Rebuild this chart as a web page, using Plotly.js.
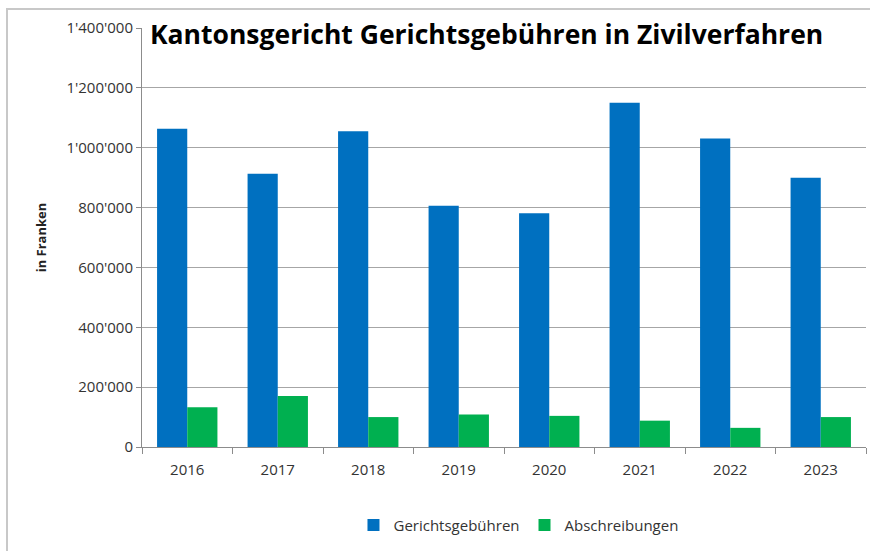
<!DOCTYPE html>
<html><head><meta charset="utf-8">
<script src="https://cdn.plot.ly/plotly-3.0.1.min.js"></script>
<style>
html,body{margin:0;padding:0;background:#fff;width:870px;height:551px;overflow:hidden;}
#wrap{position:absolute;left:6px;top:8px;width:864px;height:543px;border-left:2px solid #c8c8c8;border-top:2px solid #c8c8c8;}
#chart{width:864px;height:543px;}
</style></head>
<body><div id="wrap"><div id="chart"></div></div>
<script>
const years = ['2016','2017','2018','2019','2020','2021','2022','2023'];
const gerichtsgebuehren = [1063000, 913000, 1055000, 806000, 781000, 1150000, 1031000, 900000];
const abschreibungen = [133000, 170000, 100000, 109000, 104000, 88000, 64000, 100000];
const titleText = 'Kantonsgericht Gerichtsgebühren in Zivilverfahren';
const yTitle = 'in Franken';

const font = 'Open Sans, Liberation Sans, sans-serif';
const traces = [
  {type:'bar', name:'Gerichtsgebühren', x:years, y:gerichtsgebuehren, marker:{color:'#0070C0'}},
  {type:'bar', name:'Abschreibungen', x:years, y:abschreibungen, marker:{color:'#00B050'}}
];
const layout = {
  width:864, height:543,
  margin:{l:134, r:6, t:18, b:106},
  separators:".'",
  paper_bgcolor:'#fff', plot_bgcolor:'#fff',
  barmode:'group', bargap:0.333, bargroupgap:0,
  font:{family:font, size:14, color:'#333'},
  xaxis:{type:'category', showgrid:false, showline:true, linecolor:'#8c8c8c', linewidth:1, automargin:false,
         ticks:'outside', tickson:'boundaries', ticklen:6, tickcolor:'#8c8c8c',
         ticklabelstandoff:9, tickfont:{size:15, color:'#333'}},
  yaxis:{range:[0,1400000], dtick:200000, tickformat:',d', showgrid:true, gridcolor:'#a6a6a6', gridwidth:1,
         showline:true, linecolor:'#8c8c8c', ticks:'outside', ticklen:5, tickcolor:'#8c8c8c', automargin:false,
         zeroline:false, tickfont:{size:15, color:'#333'},
         title:{text:yTitle, font:{size:13, color:'#222', weight:'bold'}, standoff:16}},
  legend:{orientation:'h', x:0.52, xanchor:'center', y:-0.187, yanchor:'middle', font:{size:15,color:'#333'}},
  annotations:[{text:'<b>'+titleText+'</b>', xref:'paper', yref:'paper', x:0.476, y:0.985, xanchor:'center', yanchor:'middle',
    showarrow:false, bgcolor:'#fff', font:{size:26.5, color:'#000', family:font}}]
};
Plotly.newPlot('chart', traces, layout, {displayModeBar:false, staticPlot:true});
</script></body></html>
